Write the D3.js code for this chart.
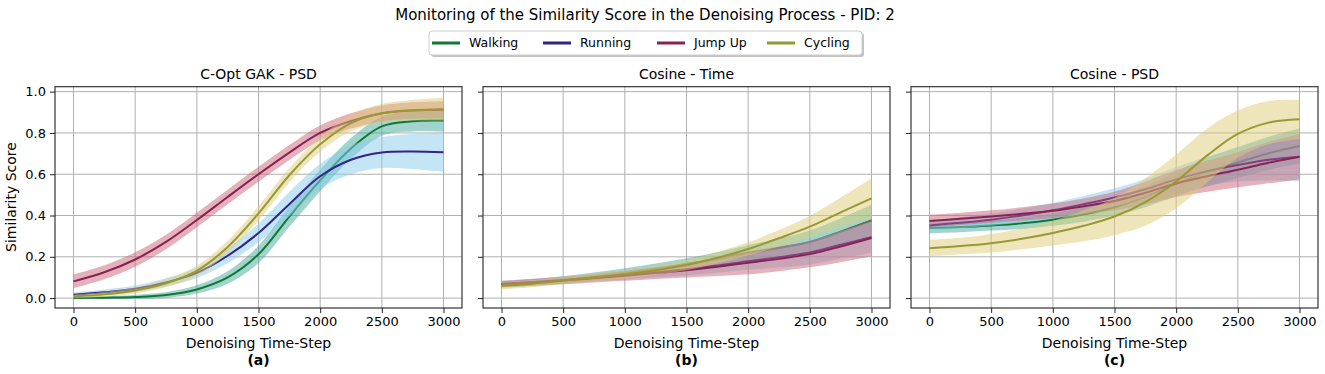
<!DOCTYPE html>
<html>
<head>
<meta charset="utf-8">
<script src="https://cdn.jsdelivr.net/npm/d3@7"></script>
<style>
  html, body { margin: 0; padding: 0; background: #fff; }
  svg { display: block; font-family: "DejaVu Sans", sans-serif; }
</style>
</head>
<body>
<svg id="chart" width="1325" height="374"></svg>
<script>
// ---------------- DATA ----------------
const steps = [0, 250, 500, 750, 1000, 1250, 1500, 1750, 2000, 2250, 2500, 2750, 3000];
const xTickValues = [0, 500, 1000, 1500, 2000, 2500, 3000];
const yTickValues = [0.0, 0.2, 0.4, 0.6, 0.8, 1.0];
const seriesNames = ["Walking", "Running", "Jump Up", "Cycling"];
const panelTitles = ["C-Opt GAK - PSD", "Cosine - Time", "Cosine - PSD"];
const panelLetters = ["(a)", "(b)", "(c)"];

// Panel (a): C-Opt GAK - PSD
const gakWalkingMean = [0.000, 0.002, 0.005, 0.015, 0.042, 0.100, 0.212, 0.395, 0.570, 0.725, 0.832, 0.857, 0.860];
const gakWalkingStd  = [0.005, 0.007, 0.010, 0.014, 0.020, 0.030, 0.042, 0.050, 0.052, 0.050, 0.045, 0.050, 0.055];
const gakRunningMean = [0.016, 0.028, 0.045, 0.076, 0.122, 0.205, 0.315, 0.455, 0.590, 0.670, 0.705, 0.710, 0.706];
const gakRunningStd  = [0.012, 0.014, 0.016, 0.020, 0.025, 0.035, 0.045, 0.060, 0.060, 0.070, 0.075, 0.085, 0.095];
const gakJumpMean    = [0.081, 0.125, 0.187, 0.272, 0.378, 0.490, 0.600, 0.705, 0.800, 0.858, 0.895, 0.909, 0.912];
const gakJumpStd     = [0.033, 0.034, 0.035, 0.035, 0.035, 0.035, 0.036, 0.036, 0.036, 0.037, 0.038, 0.040, 0.042];
const gakCyclingMean = [0.008, 0.018, 0.037, 0.072, 0.132, 0.248, 0.410, 0.595, 0.745, 0.848, 0.895, 0.910, 0.915];
const gakCyclingStd  = [0.010, 0.012, 0.015, 0.020, 0.025, 0.030, 0.035, 0.035, 0.035, 0.040, 0.045, 0.050, 0.055];

// Panel (b): Cosine - Time
const ctWalkingMean = [0.065, 0.075, 0.088, 0.104, 0.122, 0.142, 0.165, 0.190, 0.219, 0.243, 0.272, 0.322, 0.376];
const ctWalkingStd  = [0.015, 0.016, 0.018, 0.020, 0.022, 0.025, 0.028, 0.032, 0.038, 0.045, 0.055, 0.065, 0.075];
const ctRunningMean = [0.070, 0.078, 0.088, 0.100, 0.112, 0.126, 0.140, 0.158, 0.179, 0.198, 0.221, 0.258, 0.296];
const ctRunningStd  = [0.015, 0.016, 0.018, 0.020, 0.022, 0.025, 0.030, 0.035, 0.042, 0.050, 0.058, 0.067, 0.075];
const ctJumpMean    = [0.068, 0.076, 0.085, 0.096, 0.108, 0.121, 0.135, 0.152, 0.171, 0.190, 0.213, 0.250, 0.291];
const ctJumpStd     = [0.015, 0.016, 0.018, 0.020, 0.024, 0.028, 0.035, 0.045, 0.056, 0.060, 0.064, 0.076, 0.088];
const ctCyclingMean = [0.060, 0.070, 0.085, 0.100, 0.115, 0.135, 0.160, 0.195, 0.238, 0.290, 0.346, 0.415, 0.483];
const ctCyclingStd  = [0.018, 0.018, 0.018, 0.020, 0.020, 0.022, 0.025, 0.028, 0.032, 0.040, 0.052, 0.072, 0.096];

// Panel (c): Cosine - PSD
const cpWalkingMean = [0.339, 0.344, 0.352, 0.362, 0.380, 0.405, 0.440, 0.490, 0.553, 0.610, 0.657, 0.702, 0.737];
const cpWalkingStd  = [0.025, 0.025, 0.025, 0.027, 0.030, 0.035, 0.040, 0.050, 0.060, 0.070, 0.075, 0.080, 0.085];
const cpRunningMean = [0.352, 0.365, 0.380, 0.400, 0.425, 0.455, 0.487, 0.527, 0.575, 0.615, 0.645, 0.670, 0.685];
const cpRunningStd  = [0.025, 0.027, 0.030, 0.033, 0.037, 0.040, 0.045, 0.050, 0.060, 0.070, 0.080, 0.100, 0.120];
const cpJumpMean    = [0.374, 0.384, 0.395, 0.408, 0.423, 0.445, 0.470, 0.510, 0.555, 0.590, 0.622, 0.656, 0.685];
const cpJumpStd     = [0.030, 0.030, 0.030, 0.032, 0.035, 0.038, 0.045, 0.055, 0.065, 0.075, 0.085, 0.100, 0.110];
const cpCyclingMean = [0.242, 0.252, 0.266, 0.287, 0.315, 0.350, 0.395, 0.465, 0.565, 0.690, 0.795, 0.850, 0.866];
const cpCyclingStd  = [0.040, 0.040, 0.045, 0.050, 0.060, 0.075, 0.090, 0.115, 0.130, 0.130, 0.115, 0.105, 0.095];

const lineColors = ["#117733", "#332288", "#882255", "#999933"];
const fillColors = ["#44AA99", "#88CCEE", "#CC6677", "#DDCC77"];

const panels = [
  { means: [gakWalkingMean, gakRunningMean, gakJumpMean, gakCyclingMean],
    stds:  [gakWalkingStd,  gakRunningStd,  gakJumpStd,  gakCyclingStd] },
  { means: [ctWalkingMean, ctRunningMean, ctJumpMean, ctCyclingMean],
    stds:  [ctWalkingStd,  ctRunningStd,  ctJumpStd,  ctCyclingStd] },
  { means: [cpWalkingMean, cpRunningMean, cpJumpMean, cpCyclingMean],
    stds:  [cpWalkingStd,  cpRunningStd,  cpJumpStd,  cpCyclingStd] }
];

// ---------------- LAYOUT ----------------
const svg = d3.select("#chart");
const panelLefts = [55, 483, 911];
const panelWidth = 407;
const plotTop = 86.7, plotBottom = 308;
const y = d3.scaleLinear().domain([-0.048, 1.024]).range([plotBottom, plotTop]);
const curve = d3.curveCatmullRom.alpha(0.5);

// Suptitle
svg.append("text")
  .attr("x", 645).attr("y", 19.5)
  .attr("text-anchor", "middle")
  .attr("font-size", 15).attr("fill", "#000")
  .text("Monitoring of the Similarity Score in the Denoising Process - PID: 2");

// Legend
const legendX = 429, legendY = 31, legendW = 433, legendH = 24;
const lg = svg.append("g");
lg.append("rect")
  .attr("x", legendX + 2).attr("y", legendY + 2)
  .attr("width", legendW).attr("height", legendH)
  .attr("rx", 3).attr("fill", "#888").attr("opacity", 0.5);
lg.append("rect")
  .attr("x", legendX).attr("y", legendY)
  .attr("width", legendW).attr("height", legendH)
  .attr("rx", 3).attr("fill", "#fff").attr("stroke", "#cccccc").attr("stroke-width", 1);
const legendHandleX = [432, 543, 657, 767];
seriesNames.forEach((name, i) => {
  const hx = legendHandleX[i];
  const cy = legendY + legendH / 2;
  lg.append("line")
    .attr("x1", hx).attr("x2", hx + 28)
    .attr("y1", cy).attr("y2", cy)
    .attr("stroke", lineColors[i]).attr("stroke-width", 3);
  lg.append("text")
    .attr("x", hx + 37).attr("y", cy + 4.3)
    .attr("font-size", 12.5).attr("fill", "#000")
    .text(name);
});

// Panels
panels.forEach((p, pi) => {
  const left = panelLefts[pi];
  const x = d3.scaleLinear().domain([-150, 3150]).range([left, left + panelWidth]);
  const g = svg.append("g");

  // grid
  g.selectAll(".vg").data(xTickValues).enter().append("line")
    .attr("x1", d => x(d)).attr("x2", d => x(d))
    .attr("y1", plotTop).attr("y2", plotBottom)
    .attr("stroke", "#b0b0b0").attr("stroke-width", 1);
  g.selectAll(".hg").data(yTickValues).enter().append("line")
    .attr("x1", left).attr("x2", left + panelWidth)
    .attr("y1", d => y(d)).attr("y2", d => y(d))
    .attr("stroke", "#b0b0b0").attr("stroke-width", 1);

  // series
  seriesNames.forEach((name, si) => {
    const pts = steps.map((t, k) => ({ t, m: p.means[si][k], s: p.stds[si][k] }));
    const area = d3.area()
      .x(d => x(d.t))
      .y0(d => y(d.m - d.s))
      .y1(d => y(d.m + d.s))
      .curve(curve);
    const line = d3.line()
      .x(d => x(d.t))
      .y(d => y(d.m))
      .curve(curve);
    g.append("path").attr("d", area(pts))
      .attr("fill", fillColors[si]).attr("fill-opacity", 0.5).attr("stroke", "none");
    g.append("path").attr("d", line(pts))
      .attr("fill", "none").attr("stroke", lineColors[si]).attr("stroke-width", 2);
  });

  // frame
  g.append("rect")
    .attr("x", left).attr("y", plotTop)
    .attr("width", panelWidth).attr("height", plotBottom - plotTop)
    .attr("fill", "none").attr("stroke", "#222").attr("stroke-width", 1.1);

  // x axis
  const xAxis = d3.axisBottom(x).tickValues(xTickValues).tickSize(5).tickPadding(4).tickFormat(d3.format("d"));
  const xa = g.append("g").attr("transform", `translate(0,${plotBottom})`).call(xAxis);
  xa.select(".domain").remove();
  xa.selectAll("line").attr("stroke", "#222");
  xa.selectAll("text").attr("font-size", 13).attr("fill", "#000").attr("font-family", "DejaVu Sans");

  // y axis
  const yAxis = d3.axisLeft(y).tickValues(yTickValues).tickSize(5).tickPadding(4)
    .tickFormat(pi === 0 ? d3.format(".1f") : () => "");
  const ya = g.append("g").attr("transform", `translate(${left},0)`).call(yAxis);
  ya.select(".domain").remove();
  ya.selectAll("line").attr("stroke", "#222");
  ya.selectAll("text").attr("font-size", 13).attr("fill", "#000").attr("font-family", "DejaVu Sans");

  const cx = left + panelWidth / 2;
  g.append("text").attr("x", cx).attr("y", 79).attr("text-anchor", "middle")
    .attr("font-size", 14).attr("fill", "#000").text(panelTitles[pi]);
  g.append("text").attr("x", cx).attr("y", 348).attr("text-anchor", "middle")
    .attr("font-size", 14).attr("fill", "#000").text("Denoising Time-Step");
  g.append("text").attr("x", cx).attr("y", 365).attr("text-anchor", "middle")
    .attr("font-size", 14).attr("font-weight", "bold").attr("fill", "#000").text(panelLetters[pi]);
});

// y label
svg.append("text")
  .attr("transform", "translate(16,197) rotate(-90)")
  .attr("text-anchor", "middle")
  .attr("font-size", 14).attr("fill", "#000")
  .text("Similarity Score");
</script>
</body>
</html>
